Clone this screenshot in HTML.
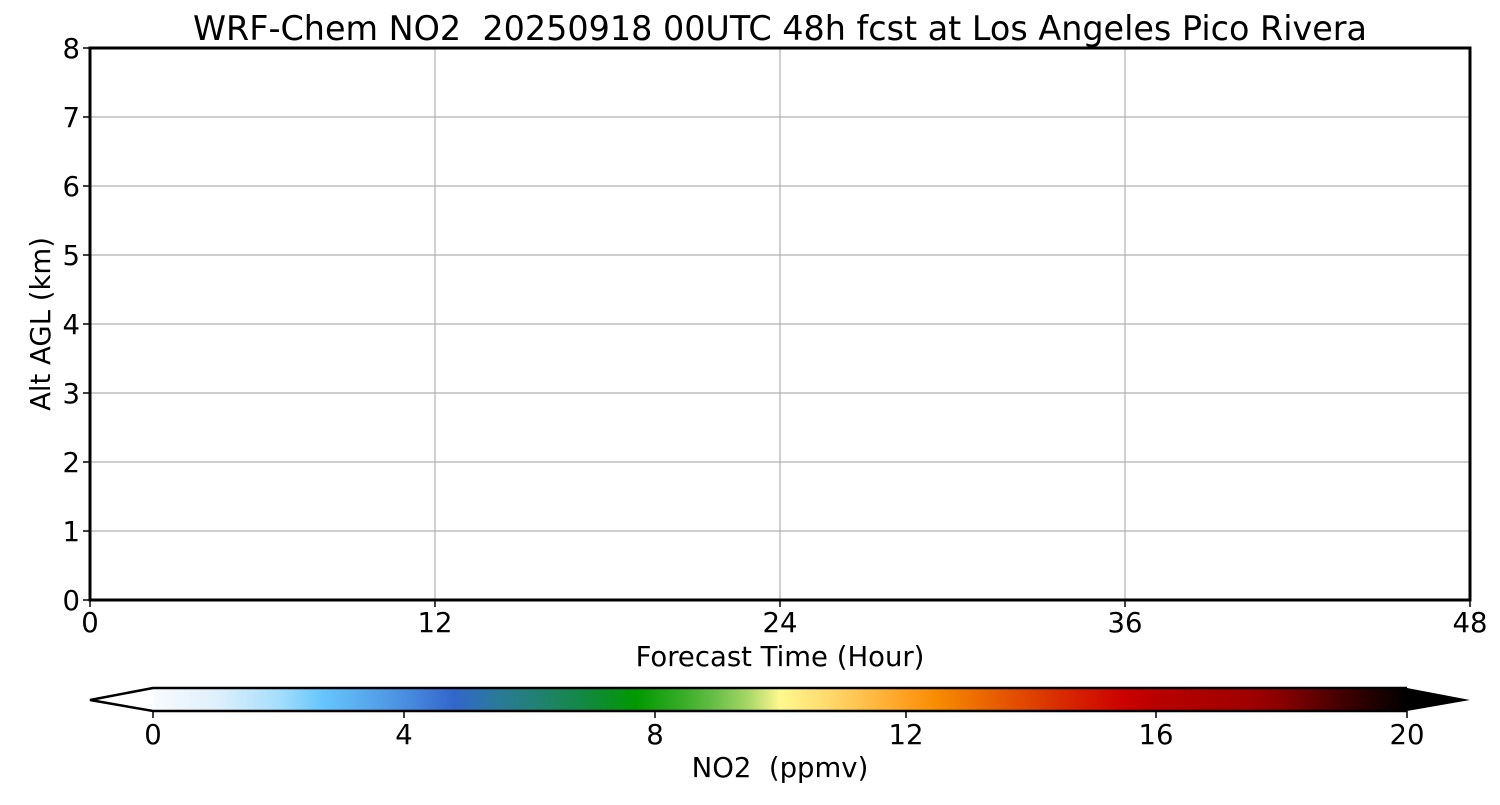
<!DOCTYPE html><html><head><style>body{margin:0;background:#fff}text{white-space:pre}</style></head><body>
<svg width="1500" height="800" xmlns="http://www.w3.org/2000/svg" font-family="DejaVu Sans, Liberation Sans, sans-serif" xml:space="preserve">
<defs><linearGradient id="g" x1="0" x2="1">
<stop offset="0" stop-color="#f8fbff"/><stop offset=".05" stop-color="#dff0fc"/><stop offset=".1" stop-color="#a6defc"/><stop offset=".135" stop-color="#66c6fc"/><stop offset=".2" stop-color="#4a8fe0"/><stop offset=".24" stop-color="#3366cc"/><stop offset=".275" stop-color="#2a7a99"/><stop offset=".3" stop-color="#23807a"/><stop offset=".35" stop-color="#108a3a"/><stop offset=".385" stop-color="#009900"/><stop offset=".425" stop-color="#3cae2a"/><stop offset=".45" stop-color="#6cc04a"/><stop offset=".475" stop-color="#a8d868"/><stop offset=".5" stop-color="#fff890"/><stop offset=".55" stop-color="#ffd060"/><stop offset=".6" stop-color="#ffa020"/><stop offset=".625" stop-color="#f88c00"/><stop offset=".675" stop-color="#e65a00"/><stop offset=".725" stop-color="#d82a00"/><stop offset=".775" stop-color="#cc0000"/><stop offset=".8" stop-color="#b80000"/><stop offset=".875" stop-color="#a00000"/><stop offset=".9" stop-color="#880000"/><stop offset=".95" stop-color="#400000"/><stop offset="1" stop-color="#000"/>
</linearGradient></defs>
<text x="780" y="40" font-size="33.4" text-anchor="middle">WRF-Chem NO2  20250918 00UTC 48h fcst at Los Angeles Pico Rivera</text>
<g stroke="#b0b0b0" stroke-width="1.2">
<line x1="435" y1="48" x2="435" y2="600"/><line x1="780" y1="48" x2="780" y2="600"/><line x1="1125" y1="48" x2="1125" y2="600"/>
<line x1="90" y1="117" x2="1470" y2="117"/><line x1="90" y1="186" x2="1470" y2="186"/><line x1="90" y1="255" x2="1470" y2="255"/><line x1="90" y1="324" x2="1470" y2="324"/><line x1="90" y1="393" x2="1470" y2="393"/><line x1="90" y1="462" x2="1470" y2="462"/><line x1="90" y1="531" x2="1470" y2="531"/>
</g>
<rect x="90" y="48" width="1380" height="552" fill="none" stroke="#000" stroke-width="3"/>
<g stroke="#000" stroke-width="1.5">
<line x1="90" y1="600" x2="90" y2="607"/><line x1="435" y1="600" x2="435" y2="607"/><line x1="780" y1="600" x2="780" y2="607"/><line x1="1125" y1="600" x2="1125" y2="607"/><line x1="1470" y1="600" x2="1470" y2="607"/>
<line x1="83" y1="48" x2="90" y2="48"/><line x1="83" y1="117" x2="90" y2="117"/><line x1="83" y1="186" x2="90" y2="186"/><line x1="83" y1="255" x2="90" y2="255"/><line x1="83" y1="324" x2="90" y2="324"/><line x1="83" y1="393" x2="90" y2="393"/><line x1="83" y1="462" x2="90" y2="462"/><line x1="83" y1="531" x2="90" y2="531"/><line x1="83" y1="600" x2="90" y2="600"/>
</g>
<g font-size="27.5" text-anchor="middle">
<text x="90" y="632">0</text><text x="435" y="632">12</text><text x="780" y="632">24</text><text x="1125" y="632">36</text><text x="1470" y="632">48</text>
</g>
<g font-size="27.5" text-anchor="end">
<text x="80" y="58">8</text><text x="80" y="127">7</text><text x="80" y="196">6</text><text x="80" y="265">5</text><text x="80" y="334">4</text><text x="80" y="403">3</text><text x="80" y="472">2</text><text x="80" y="541">1</text><text x="80" y="610">0</text>
</g>
<text x="780" y="666" font-size="27.5" text-anchor="middle">Forecast Time (Hour)</text>
<text transform="translate(50,324) rotate(-90)" font-size="27.5" text-anchor="middle">Alt AGL (km)</text>
<rect x="153" y="688" width="1254" height="23" fill="url(#g)"/>
<polygon points="1407,688 1470,700 1407,711" fill="#000"/>
<path d="M1407,688 L153,688 L90,700 L153,711 L1407,711" fill="none" stroke="#000" stroke-width="2.5"/>
<g stroke="#000" stroke-width="1.5"><line x1="153" y1="711" x2="153" y2="718"/><line x1="404" y1="711" x2="404" y2="718"/><line x1="655" y1="711" x2="655" y2="718"/><line x1="906" y1="711" x2="906" y2="718"/><line x1="1156" y1="711" x2="1156" y2="718"/><line x1="1407" y1="711" x2="1407" y2="718"/></g>
<g font-size="27.5" text-anchor="middle">
<text x="153" y="744">0</text><text x="404" y="744">4</text><text x="655" y="744">8</text><text x="906" y="744">12</text><text x="1156" y="744">16</text><text x="1407" y="744">20</text>
</g>
<text x="780" y="777" font-size="27.5" text-anchor="middle">NO2  (ppmv)</text>
</svg></body></html>
